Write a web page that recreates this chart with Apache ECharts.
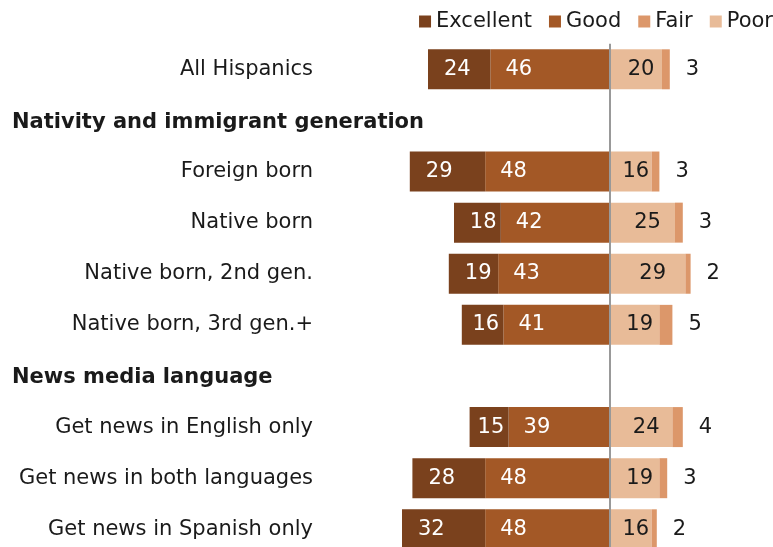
<!DOCTYPE html>
<html>
<head>
<meta charset="utf-8">
<script src="https://cdn.jsdelivr.net/npm/echarts@6/dist/echarts.min.js"></script>
<style>
  html, body { margin: 0; padding: 0; background: #fff; }
  #chart { width: 773px; height: 547px; }
</style>
</head>
<body>
<div id="chart"></div>
<script>
// Rows of the chart; section headings sit in their own empty rows
const categories = [
  'All Hispanics',
  'Nativity and immigrant generation',
  'Foreign born',
  'Native born',
  'Native born, 2nd gen.',
  'Native born, 3rd gen.+',
  'News media language',
  'Get news in English only',
  'Get news in both languages',
  'Get news in Spanish only'
];
const headers = ['Nativity and immigrant generation', 'News media language'];

// Ratings, percent
const excellent = [24, null, 29, 18, 19, 16, null, 15, 28, 32];
const good      = [46, null, 48, 42, 43, 41, null, 39, 48, 48];
const fair      = [20, null, 16, 25, 29, 19, null, 24, 19, 16];
const poor      = [3,  null, 3,  3,  2,  5,  null, 4,  3,  2];

const FONT = 'DejaVu Sans';
const FS = 21;
const C_EXC = '#7a411d', C_GOOD = '#a35826', C_ORANGE = '#dc976a', C_PEACH = '#e8bb98';
const TXT = '#1a1a1a';

const X_MIN = -110, X_MAX = 60;
const GRID = { left: 324, right: 7, top: 43.75, height: 511.1, outerBoundsMode: 'none' };
const pxPerUnit = (773 - GRID.left - GRID.right) / (X_MAX - X_MIN);

const neg = arr => arr.map(v => v == null ? null : -v);

// Excellent labels hug the outer end, with less room on short segments
const excellentData = excellent.map(v => v == null ? null : {
  value: -v,
  label: { distance: Math.max(3, Math.min(16, v * pxPerUnit - 31)) }
});

const absFmt = p => p.value == null ? '' : Math.abs(p.value);

const chart = echarts.init(document.getElementById('chart'), null, { renderer: 'canvas' });
chart.setOption({
  animation: false,
  textStyle: { fontFamily: FONT },
  legend: {
    top: 11, right: 0, padding: 0,
    itemWidth: 12, itemHeight: 12, itemGap: 17,
    icon: 'rect',
    textStyle: { fontFamily: FONT, fontSize: FS, color: TXT },
    data: [
      { name: 'Excellent', itemStyle: { color: C_EXC } },
      { name: 'Good', itemStyle: { color: C_GOOD } },
      { name: 'Fair', itemStyle: { color: C_ORANGE } },
      { name: 'Poor', itemStyle: { color: C_PEACH } }
    ]
  },
  grid: GRID,
  xAxis: {
    type: 'value', min: X_MIN, max: X_MAX, show: false
  },
  yAxis: {
    type: 'category', data: categories, inverse: true,
    axisLine: { show: false }, axisTick: { show: false },
    axisLabel: {
      margin: 11, fontFamily: FONT, fontSize: FS, color: TXT,
      formatter: name => headers.includes(name) ? '{h|' + name + '}' : name,
      rich: {
        h: { fontFamily: FONT, fontSize: FS, fontWeight: 'bold', color: TXT, width: 301, align: 'left', padding: [4, 0, 0, 0] }
      }
    }
  },
  series: [
    {
      name: 'Good', type: 'bar', stack: 'all', barWidth: 40,
      itemStyle: { color: C_GOOD },
      label: { show: true, position: 'insideLeft', distance: 15, color: '#fff', fontFamily: FONT, fontSize: FS, formatter: absFmt },
      data: neg(good)
    },
    {
      name: 'Excellent', type: 'bar', stack: 'all', barWidth: 40,
      itemStyle: { color: C_EXC },
      label: { show: true, position: 'insideLeft', color: '#fff', fontFamily: FONT, fontSize: FS, formatter: absFmt },
      data: excellentData
    },
    {
      name: 'Fair', type: 'bar', stack: 'all', barWidth: 40,
      itemStyle: { color: C_PEACH },
      label: { show: true, position: 'inside', offset: [5, 0], color: TXT, fontFamily: FONT, fontSize: FS, formatter: absFmt },
      data: fair,
      markLine: {
        silent: true, symbol: ['none', 'none'],
        label: { show: false },
        lineStyle: { color: '#999', width: 2, type: 'solid' },
        data: [{ xAxis: 0 }]
      }
    },
    {
      name: 'Poor', type: 'bar', stack: 'all', barWidth: 40,
      itemStyle: { color: C_ORANGE },
      label: { show: true, position: 'right', distance: 16, color: TXT, fontFamily: FONT, fontSize: FS, formatter: absFmt },
      data: poor
    }
  ]
});
</script>
</body>
</html>
